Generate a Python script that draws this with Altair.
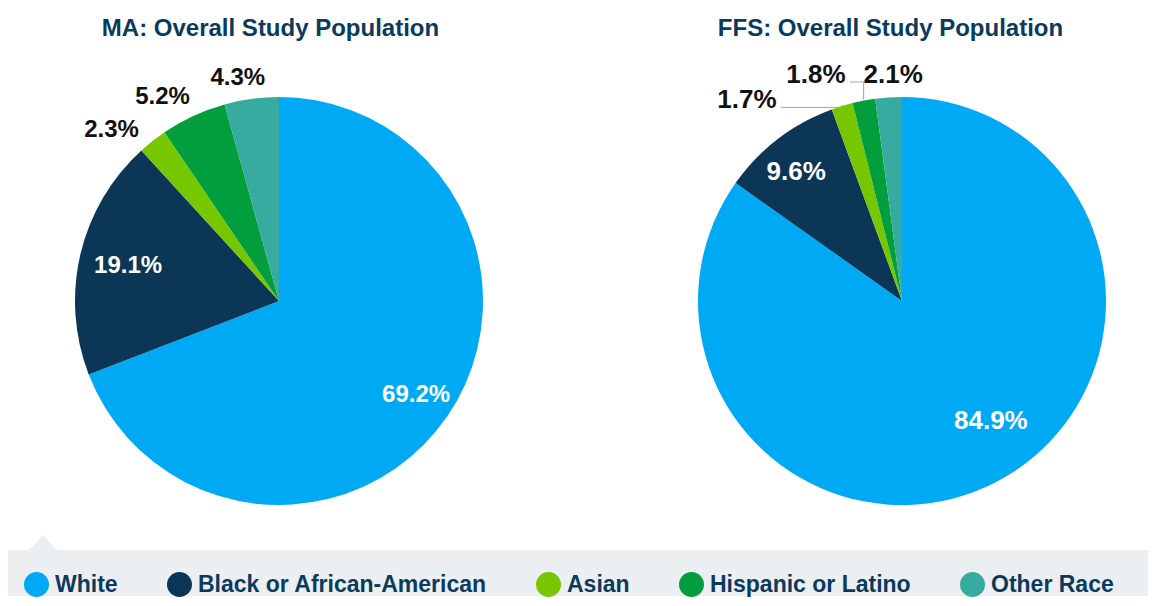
import altair as alt
import pandas as pd

# ---- data ----
RACES = ["White", "Black or African-American", "Asian", "Hispanic or Latino", "Other Race"]
MA_SHARE = [69.2, 19.1, 2.3, 5.2, 4.3]
FFS_SHARE = [84.9, 9.6, 1.7, 1.8, 2.1]
TITLES = ["MA: Overall Study Population", "FFS: Overall Study Population"]

# ---- style ----
COLORS = ["#00a9f4", "#0b3655", "#76c700", "#009e3d", "#38aba1"]
FONT = "Liberation Sans, Arial, Helvetica, sans-serif"
NAVY = "#0b3a5c"
PIE_R = 204
H = 478
W1, W2 = 542, 492


def panel(title, shares, W, lr, nx, ny, title_dx, font_size, leaders=False, extra=None):
    df = pd.DataFrame({"race": RACES, "share": shares, "order": list(range(len(RACES)))})
    xs = alt.Scale(domain=[-W / 2, W / 2], nice=False, zero=False)
    ys = alt.Scale(domain=[-H / 2, H / 2], nice=False, zero=False)

    arcs = alt.Chart(df).mark_arc(outerRadius=PIE_R).encode(
        theta=alt.Theta("share:Q", stack=True),
        color=alt.Color("race:N", scale=alt.Scale(domain=RACES, range=COLORS),
                        legend=alt.Legend(title=None)),
        order=alt.Order("order:Q", sort="ascending"),
    )

    base = (
        alt.Chart(df)
        .transform_joinaggregate(total="sum(share)")
        .transform_window(cum="sum(share)", sort=[alt.SortField("order", order="ascending")],
                          frame=[None, 0])
        .transform_calculate(
            mid="2*PI*(datum.cum - datum.share/2)/datum.total",
            label="format(datum.share, '.1f') + '%'",
        )
        .transform_calculate(
            lx=f"{lr}[datum.order]*sin(datum.mid) + {nx}[datum.order]",
            ly=f"{lr}[datum.order]*cos(datum.mid) + {ny}[datum.order]",
        )
    )

    texts = base.mark_text(font=FONT, fontSize=font_size, fontWeight="bold").encode(
        x=alt.X("lx:Q", scale=xs, axis=None),
        y=alt.Y("ly:Q", scale=ys, axis=None),
        text="label:N",
        color=alt.when("datum.order < 2").then(alt.value("white")).otherwise(alt.value("#111111")),
    )
    layers = [arcs, texts]

    if leaders:
        lead = base.transform_filter("datum.order == 2 || datum.order == 3").transform_calculate(
            p0x=f"{PIE_R + 1}*sin(datum.mid)",
            p0y=f"{PIE_R + 1}*cos(datum.mid)",
            p2x="datum.lx + 34",
            p2y="datum.ly - 7",
        )
        r1 = lead.mark_rule(color="#a6a6a6", strokeWidth=1).encode(
            x=alt.X("p0x:Q", scale=xs, axis=None),
            y=alt.Y("p0y:Q", scale=ys, axis=None),
            y2="p2y:Q",
        )
        r2 = lead.mark_rule(color="#a6a6a6", strokeWidth=1).encode(
            x=alt.X("p0x:Q", scale=xs, axis=None),
            x2="p2x:Q",
            y=alt.Y("p2y:Q", scale=ys, axis=None),
        )
        layers = [arcs, r1, r2, texts]

    if extra:
        layers = extra + layers

    return alt.layer(*layers).properties(
        width=W, height=H,
        title=alt.Title(title, font=FONT, fontSize=24, fontWeight="bold", color=NAVY,
                        anchor="middle", baseline="alphabetic", offset=2, dx=title_dx),
    )


# legend background strip with its small pointer (decoration)
dummy = pd.DataFrame({"k": [0]})
bar = alt.Chart(dummy).mark_rect(color="#eceff2").encode(
    x=alt.value(0), x2=alt.value(W1 + 106 + W2), y=alt.value(H + 10), y2=alt.value(H + 56)
)
tri = alt.Chart(dummy).mark_point(
    shape="M-1,1L0,-0.07L1,1Z", filled=True, fill="#eceff2", opacity=1, size=784, strokeWidth=0
).encode(x=alt.value(35), y=alt.value(H - 4))

p1 = panel(TITLES[0], MA_SHARE, W1,
           [165, 155, 225, 225, 225], [1, 0, -28, -22, -11], [-1, 0, -6, 0, 0], -8.5, 24,
           extra=[bar, tri])
p2 = panel(TITLES[1], FFS_SHARE, W2,
           [150, 166, 225, 225, 225], [20, -5, -89, -44, 6], [13, -3, -14.5, 5, 1], -11.5, 26,
           leaders=True)

chart = (
    alt.hconcat(p1, p2, spacing=106, bounds="flush")
    .properties(padding={"left": 0, "top": 8, "right": 0, "bottom": 0})
    .configure_view(stroke=None)
    .configure_legend(
        orient="none", legendX=16, legendY=510, direction="horizontal",
        symbolType="circle", symbolSize=625, symbolStrokeWidth=0, symbolOpacity=1,
        labelFont=FONT, labelFontSize=23, labelFontWeight="bold", labelColor=NAVY,
        labelOffset=6, columnPadding=49, padding=0, labelLimit=400,
    )
)

chart.save("out.html", embed_options={"renderer": "svg", "actions": False})
